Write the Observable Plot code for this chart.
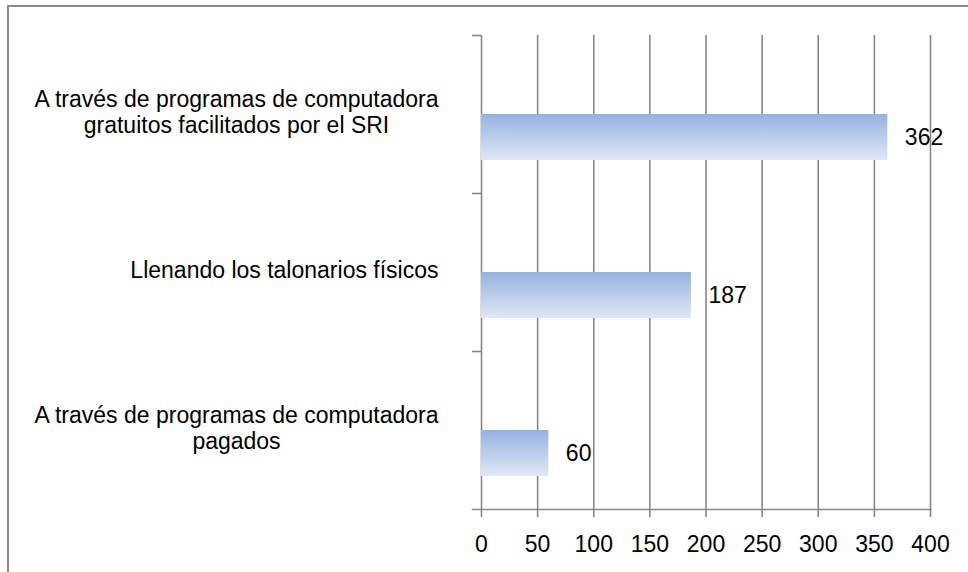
<!DOCTYPE html>
<html>
<head>
<meta charset="utf-8">
<script src="https://cdn.jsdelivr.net/npm/d3@7"></script>
<script src="https://cdn.jsdelivr.net/npm/@observablehq/plot@0.6"></script>
<style>
  html, body { margin: 0; padding: 0; background: #fff; }
  #wrap { position: relative; width: 968px; height: 572px; overflow: hidden; }
  #border { position: absolute; left: 7px; top: 5px; width: 980px; height: 600px; border: 2px solid #8a8a8a; box-sizing: border-box; pointer-events: none; }
</style>
</head>
<body>
<div id="wrap"><div id="border"></div></div>
<script>
const categories = [
  "A través de programas de computadora\ngratuitos facilitados por el SRI",
  "Llenando los talonarios físicos",
  "A través de programas de computadora\npagados"
];
const values = [362, 187, 60];
const xTicks = [0, 50, 100, 150, 200, 250, 300, 350, 400];

const data = categories.map((c, i) => ({category: c, value: values[i]}));
const gridColor = "#878787";
const font = "Liberation Sans, Arial, sans-serif";

const chart = Plot.plot({
  width: 968,
  height: 572,
  marginLeft: 481,
  marginRight: 38,
  marginTop: 35,
  marginBottom: 63,
  style: {fontFamily: font, fontSize: "23px", background: "transparent", color: "black"},
  x: {domain: [0, 400], ticks: xTicks, label: null},
  y: {domain: categories, padding: 0, label: null},
  marks: [
    Plot.ruleX(xTicks, {stroke: gridColor, strokeWidth: 1.6}),
    Plot.frame({anchor: "bottom", insetLeft: -9, stroke: gridColor, strokeWidth: 1.6}),
    Plot.axisX({ticks: xTicks, tickSize: 8, tickPadding: 18, stroke: gridColor, strokeWidth: 1.6, fill: "black", fontSize: 23, tickFormat: d => String(d), label: null}),
    Plot.axisY({tickSize: 9, dy: -79, stroke: gridColor, strokeWidth: 1.6, tickFormat: () => "", label: null}),
    Plot.axisY({tickSize: 0, tickPadding: 43, fill: "black", fontSize: 23, lineHeight: 1.15, dy: -3, label: null}),
    Plot.barX(data, {x: "value", y: "category", fill: "url(#barGrad)", insetTop: 79, insetBottom: 33}),
    Plot.text(data, {x: "value", y: "category", text: d => String(d.value), dx: 17, dy: 23, textAnchor: "start", fontSize: 23, fill: "black"})
  ]
});

document.getElementById("wrap").prepend(chart);

// gradient definition for bars
const ns = "http://www.w3.org/2000/svg";
const defs = document.createElementNS(ns, "defs");
const grad = document.createElementNS(ns, "linearGradient");
grad.setAttribute("id", "barGrad");
grad.setAttribute("x1", "0"); grad.setAttribute("y1", "0");
grad.setAttribute("x2", "0"); grad.setAttribute("y2", "1");
[["0%", "#94b2e0"], ["100%", "#e0e7f5"]].forEach(([o, c]) => {
  const s = document.createElementNS(ns, "stop");
  s.setAttribute("offset", o);
  s.setAttribute("stop-color", c);
  grad.appendChild(s);
});
defs.appendChild(grad);
chart.prepend(defs);

// center multi-line category labels within their block (Excel style)
chart.querySelectorAll("text").forEach(t => {
  const spans = t.querySelectorAll("tspan");
  if (spans.length > 1) {
    let w = 0;
    spans.forEach(s => { w = Math.max(w, s.getComputedTextLength()); });
    t.setAttribute("text-anchor", "middle");
    spans.forEach(s => s.setAttribute("x", String(-w / 2)));
  }
});
</script>
</body>
</html>
